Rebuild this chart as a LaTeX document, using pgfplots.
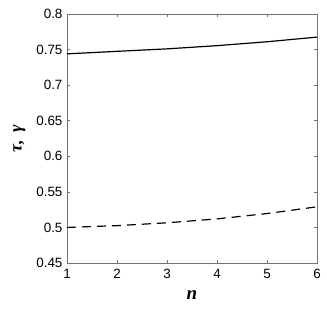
\documentclass[border=0pt]{standalone}
\usepackage{fontspec}
\setmainfont{Liberation Sans}
\newfontfamily\labfont{Liberation Serif}
\usepackage{pgfplots}
\pgfplotsset{compat=1.18}
\begin{document}
\begin{tikzpicture}[x=1bp,y=1bp]
\useasboundingbox (-67bp,-46bp) rectangle (260bp,263bp);
\begin{axis}[
  at={(0,0)}, anchor=south west,
  scale only axis, width=250bp, height=249bp,
  xmin=1, xmax=6, ymin=0.45, ymax=0.8,
  xtick={1,2,3,4,5,6},
  ytick={0.45,0.5,0.55,0.6,0.65,0.7,0.75,0.8},
  yticklabels={0.45,0.5,0.55,0.6,0.65,0.7,0.75,0.8},
  xticklabels={1,2,3,4,5,6},
  tick align=inside, major tick length=3bp,
  tick style={black!55, line width=0.5pt},
  axis line style={black!55, line width=0.8pt},
  ticklabel style={font=\fontsize{13.5}{14}\selectfont},
  yticklabel style={xshift=-1bp},
  xticklabel style={yshift=-3bp},
  xlabel={\labfont\bfseries\itshape n},
  ylabel={\labfont\bfseries\itshape τ,\, γ},
  xlabel style={font=\fontsize{19}{20}\selectfont, yshift=-5bp},
  ylabel style={font=\fontsize{18}{19}\selectfont, yshift=4bp},
]
\addplot[black, line width=1.2pt] coordinates {(1,0.744) (2,0.7475) (3,0.751) (4,0.7555) (5,0.761) (6,0.7675)};
\addplot[black, line width=1.2pt, dash pattern=on 9bp off 6bp] coordinates {(1,0.500) (2,0.5025) (3,0.5065) (4,0.512) (5,0.5195) (6,0.529)};
\end{axis}
\end{tikzpicture}
\end{document}
